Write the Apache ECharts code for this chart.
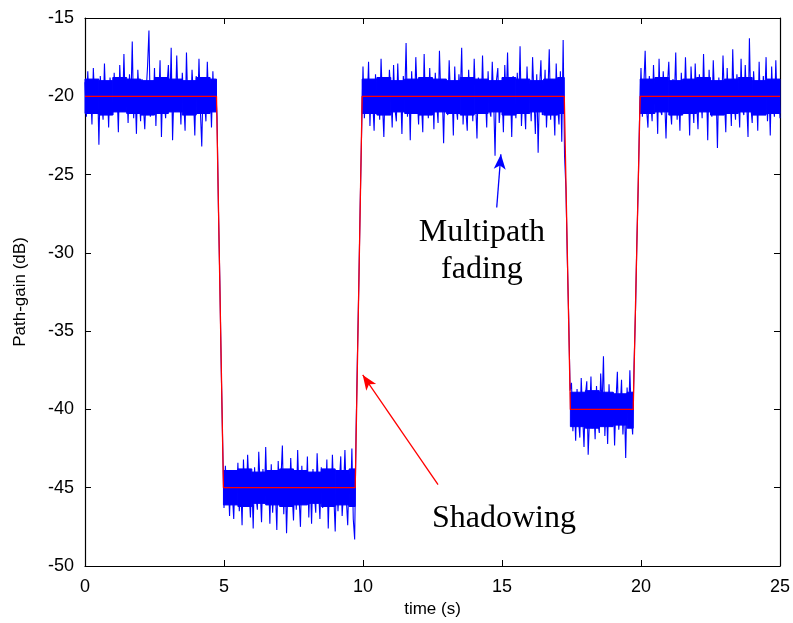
<!DOCTYPE html>
<html>
<head>
    <meta charset="utf-8">
    <title>Path-gain vs time</title>
    <script src="https://cdn.jsdelivr.net/npm/echarts@6/dist/echarts.min.js"></script>
    <style>
        html, body { margin: 0; padding: 0; background: #fff; }
        #main { width: 793px; height: 623px; }
    </style>
</head>
<body>
<div id="main"></div>
<script type="text/javascript">
    // sample spacing of the measured trace (s)
    var dt = 0.05;

    var gainA = [ // 0 - 4.75 s
        -19.1,-21.3,-18.4,-20.9,-19.6,-21.8,-18.2,-20.4,-21.1,-19.0,
        -23.1,-18.7,-20.2,-21.5,-17.9,-20.6,-19.3,-22.0,-18.8,-20.1,
        -21.2,-18.5,-20.8,-19.4,-22.3,-18.0,-20.3,-21.0,-17.3,-20.7,
        -19.2,-21.7,-18.6,-20.5,-16.5,-21.4,-19.5,-22.4,-18.3,-20.0,
        -21.6,-18.9,-20.6,-22.1,-19.7,-18.1,-15.8,-21.3,-19.8,-20.9,
        -18.2,-21.9,-19.0,-20.4,-17.7,-22.6,-18.8,-20.2,-21.4,-19.3,
        -18.0,-20.8,-16.9,-22.8,-19.6,-21.0,-17.4,-20.5,-19.1,-21.8,
        -18.5,-20.3,-22.2,-17.2,-20.7,-19.4,-21.2,-18.3,-20.0,-22.5,
        -18.7,-21.1,-17.6,-20.9,-23.2,-18.9,-20.4,-21.6,-17.8,-20.6,
        -19.2,-22.0,-18.4,-20.8,-19.5,-21.3
    ];
    var fallA = [-27.2, -31.8, -37.3, -42.0];
    var gainB = [ // 5.00 - 9.70 s
        -46.3,-43.6,-45.9,-44.2,-46.8,-43.9,-45.4,-47.0,-44.0,-45.8,
        -43.4,-46.5,-44.7,-47.4,-43.2,-45.6,-46.1,-42.9,-45.0,-46.9,
        -44.3,-47.6,-43.7,-45.5,-46.4,-42.7,-44.9,-47.2,-43.8,-46.0,
        -42.4,-45.7,-44.1,-47.3,-43.5,-46.6,-44.6,-45.2,-47.7,-43.3,
        -45.9,-44.4,-42.3,-46.7,-43.9,-47.9,-44.8,-46.2,-43.1,-45.3,
        -47.1,-44.0,-46.4,-42.6,-45.6,-47.5,-43.6,-46.0,-44.5,-45.8,
        -43.0,-46.9,-44.2,-47.3,-43.8,-45.4,-46.6,-42.8,-45.1,-47.0,
        -43.7,-46.3,-44.6,-45.9,-43.2,-47.6,-44.3,-46.1,-42.9,-45.5,
        -47.8,-43.9,-46.5,-44.7,-43.0,-46.8,-45.2,-42.6,-45.7,-47.4,
        -44.1,-46.2,-42.5,-47.0,-48.3
    ];
    var riseB = [-41.5, -36.5, -32.0, -26.8, -22.3];
    var gainC = [ // 10.00 - 17.20 s
        -18.1,-21.4,-19.3,-20.7,-17.8,-21.9,-19.0,-20.3,-22.2,-18.6,
        -20.9,-19.2,-21.5,-17.6,-20.4,-22.6,-18.9,-20.1,-21.2,-18.3,
        -19.7,-22.0,-18.0,-20.8,-21.6,-17.9,-20.5,-19.4,-22.4,-18.7,
        -20.2,-16.6,-21.3,-19.1,-22.8,-18.4,-20.6,-21.0,-17.5,-20.0,
        -21.8,-18.8,-20.3,-22.3,-17.3,-20.9,-19.5,-21.4,-18.2,-20.7,
        -19.0,-22.1,-18.5,-20.4,-21.7,-17.1,-20.1,-19.6,-23.0,-18.9,
        -20.8,-21.2,-17.7,-20.2,-19.3,-22.5,-18.1,-20.6,-21.5,-18.6,
        -20.0,-16.9,-21.8,-19.4,-20.9,-22.2,-18.3,-20.5,-19.1,-21.6,
        -17.6,-20.3,-22.7,-18.8,-20.1,-21.1,-17.4,-20.7,-19.8,-22.0,
        -18.4,-20.9,-21.3,-17.8,-20.2,-23.8,-19.0,-18.2,-21.7,-20.4,
        -19.6,-22.3,-18.0,-20.6,-17.2,-21.0,-19.3,-22.6,-18.7,-20.1,
        -21.4,-18.5,-20.8,-16.8,-21.9,-19.7,-20.3,-22.1,-18.1,-20.5,
        -19.2,-21.6,-17.5,-20.0,-22.4,-18.6,-23.6,-19.5,-17.7,-21.2,
        -20.7,-18.3,-22.0,-19.9,-17.0,-21.5,-18.9,-20.2,-22.5,-17.9,
        -20.6,-21.8,-18.4,-22.9,-16.4
    ];
    var fallC = [-23.8, -25.9, -30.4, -34.2, -38.8];
    var gainD = [ // 17.50 - 19.70 s
        -38.3,-41.4,-39.2,-42.0,-38.7,-40.6,-41.8,-38.0,-40.3,-42.4,
        -39.1,-38.2,-42.9,-40.5,-37.9,-41.2,-39.6,-41.9,-38.5,-40.8,
        -41.5,-37.7,-39.8,-36.6,-41.7,-39.3,-42.2,-38.4,-40.7,-41.1,
        -38.9,-42.3,-39.5,-37.6,-41.3,-40.0,-38.1,-41.6,-39.4,-43.1,
        -38.6,-41.0,-37.5,-40.4,-41.6
    ];
    var riseD = [-37.2, -33.9, -29.4, -25.8, -21.2];
    var gainE = [ // 20.00 - 25.00 s
        -18.2,-21.3,-19.4,-17.1,-20.8,-22.0,-18.7,-20.3,-21.6,-18.0,
        -20.5,-19.1,-22.4,-17.6,-20.9,-21.2,-18.4,-20.1,-22.7,-19.3,
        -17.8,-20.6,-21.8,-18.9,-20.2,-17.2,-21.5,-19.6,-22.2,-18.5,
        -20.7,-21.0,-17.5,-20.4,-19.2,-22.5,-18.1,-20.0,-21.7,-17.9,
        -20.3,-22.1,-18.6,-19.8,-21.4,-17.3,-20.6,-19.0,-22.8,-18.3,
        -20.9,-21.3,-17.7,-20.2,-19.5,-23.3,-18.8,-20.5,-21.1,-17.4,
        -20.1,-22.3,-18.2,-20.7,-19.3,-21.9,-17.0,-20.4,-21.5,-18.6,
        -19.9,-22.0,-17.6,-20.8,-21.2,-18.0,-20.3,-22.6,-16.3,-20.6,
        -21.7,-18.4,-20.0,-19.4,-22.2,-17.8,-20.9,-21.1,-18.7,-20.2,
        -17.5,-21.6,-19.2,-22.5,-18.1,-20.5,-21.3,-17.7,-20.8,-19.0,
        -21.4
    ];

    // dense core of the fading trace (where the samples overlap into a solid band)
    var coreStart = [0, 0.5, 1, 1.5, 2, 2.5, 3, 3.5, 4, 4.5,
        4.98, 5.5, 6, 6.5, 7, 7.5, 8, 8.5, 9, 9.5,
        9.97, 10.5, 11, 11.5, 12, 12.5, 13, 13.5, 14, 14.5, 15, 15.5, 16, 16.5, 17,
        17.46, 18, 18.5, 19, 19.5,
        19.97, 20.5, 21, 21.5, 22, 22.5, 23, 23.5, 24, 24.5];
    var coreEnd = [0.5, 1, 1.5, 2, 2.5, 3, 3.5, 4, 4.5, 4.73,
        5.5, 6, 6.5, 7, 7.5, 8, 8.5, 9, 9.5, 9.72,
        10.5, 11, 11.5, 12, 12.5, 13, 13.5, 14, 14.5, 15, 15.5, 16, 16.5, 17, 17.24,
        18, 18.5, 19, 19.5, 19.72,
        20.5, 21, 21.5, 22, 22.5, 23, 23.5, 24, 24.5, 25];
    var coreHi = [-18.9, -19.0, -18.8, -18.9, -19.0, -18.8, -18.9, -19.0, -18.8, -18.9,
        -43.9, -43.8, -44.0, -43.9, -43.8, -43.9, -44.0, -43.8, -43.9, -43.8,
        -18.9, -18.8, -19.0, -18.9, -18.8, -18.9, -19.0, -18.8, -18.9, -19.0, -18.8, -18.9, -19.0, -18.9, -18.8,
        -38.9, -38.8, -38.9, -39.0, -38.9,
        -18.9, -18.8, -19.0, -18.9, -18.8, -19.0, -18.9, -18.8, -19.0, -18.9];
    var coreLo = [-21.1, -21.2, -21.0, -21.1, -21.2, -21.1, -21.0, -21.2, -21.1, -21.0,
        -46.1, -46.2, -46.0, -46.1, -46.2, -46.1, -46.0, -46.2, -46.1, -46.2,
        -21.1, -21.2, -21.0, -21.1, -21.2, -21.0, -21.1, -21.2, -21.1, -21.0, -21.2, -21.1, -21.0, -21.2, -21.1,
        -41.1, -41.2, -41.1, -41.0, -41.2,
        -21.1, -21.0, -21.2, -21.1, -21.0, -21.2, -21.1, -21.0, -21.2, -21.1];

    // shadowing (mean level), corner points
    var shadowT = [0, 4.73, 4.98, 9.72, 9.97, 17.24, 17.46, 19.72, 19.97, 25];
    var shadowY = [-20, -20, -45, -45, -20, -20, -40, -40, -20, -20];

    // annotations
    var noteText = ['Multipath\nfading', 'Shadowing'];
    var noteT = [14.28, 15.07];
    var noteY = [-29.9, -47.0];
    var blueArrow = [[14.81, -27.1], [14.96, -23.7]];
    var redArrow = [[12.70, -44.8], [9.99, -37.8]];

    var xTicks = [0, 5, 10, 15, 20, 25];
    var yTicks = [-50, -45, -40, -35, -30, -25, -20, -15];

    var gain = [].concat(gainA, fallA, gainB, riseB, gainC, fallC, gainD, riseD, gainE);
    var gainData = gain.map(function (v, i) {
        return [+(i * dt).toFixed(2), v];
    });
    var coreData = coreStart.map(function (t, i) {
        return [t, coreEnd[i], coreHi[i], coreLo[i]];
    });
    var shadowData = shadowT.map(function (t, i) {
        return [t, shadowY[i]];
    });
    var noteData = noteText.map(function (s, i) {
        return {name: s, value: [noteT[i], noteY[i]]};
    });

    var myChart = echarts.init(document.getElementById('main'), null, {renderer: 'canvas'});

    var sans = 'Liberation Sans';
    var tickStyle = {show: true, inside: true, length: 6, lineStyle: {color: '#000', width: 1}};
    var frameLine = {show: true, onZero: false, lineStyle: {color: '#000', width: 1.2}};

    var option = {
        backgroundColor: '#fff',
        animation: false,
        grid: {left: 85, right: 11, top: 18, bottom: 57, containLabel: false},
        xAxis: [{
            type: 'value',
            min: xTicks[0], max: xTicks[xTicks.length - 1], interval: 5,
            name: 'time (s)',
            nameLocation: 'middle',
            nameGap: 33,
            nameTextStyle: {fontFamily: sans, fontSize: 17, color: '#000'},
            axisLine: frameLine,
            axisTick: tickStyle,
            axisLabel: {fontFamily: sans, fontSize: 18, color: '#000', margin: 12},
            splitLine: {show: false}
        }, {
            type: 'value', position: 'top',
            min: xTicks[0], max: xTicks[xTicks.length - 1], interval: 5,
            axisLine: frameLine,
            axisTick: tickStyle,
            axisLabel: {show: false},
            splitLine: {show: false}
        }],
        yAxis: [{
            type: 'value',
            min: yTicks[0], max: yTicks[yTicks.length - 1], interval: 5,
            name: 'Path-gain (dB)',
            nameLocation: 'middle',
            nameGap: 56,
            nameTextStyle: {fontFamily: sans, fontSize: 17, color: '#000'},
            axisLine: frameLine,
            axisTick: tickStyle,
            axisLabel: {fontFamily: sans, fontSize: 18, color: '#000', margin: 11},
            splitLine: {show: false}
        }, {
            type: 'value', position: 'right',
            min: yTicks[0], max: yTicks[yTicks.length - 1], interval: 5,
            axisLine: frameLine,
            axisTick: tickStyle,
            axisLabel: {show: false},
            splitLine: {show: false}
        }],
        series: [{
            name: 'multipath core',
            type: 'custom',
            data: coreData,
            silent: true,
            z: 1,
            renderItem: function (params, api) {
                var p0 = api.coord([api.value(0), api.value(2)]);
                var p1 = api.coord([api.value(1), api.value(3)]);
                return {
                    type: 'rect',
                    shape: {x: p0[0], y: p0[1], width: p1[0] - p0[0], height: p1[1] - p0[1]},
                    style: {fill: '#0000ff', stroke: '#0000ff', lineWidth: 1}
                };
            }
        }, {
            name: 'multipath',
            type: 'line',
            data: gainData,
            showSymbol: false,
            symbol: 'none',
            sampling: null,
            lineStyle: {color: '#0000ff', width: 1.1},
            z: 2,
            markLine: {
                silent: true,
                symbol: ['none', 'arrow'],
                symbolSize: [9, 15],
                label: {show: false},
                lineStyle: {color: '#0000ff', width: 1.3, type: 'solid'},
                data: [[{coord: blueArrow[0]}, {coord: blueArrow[1]}]]
            }
        }, {
            name: 'shadowing',
            type: 'line',
            data: shadowData,
            symbol: 'none',
            lineStyle: {color: '#ff0000', width: 1.3},
            z: 3,
            markLine: {
                silent: true,
                symbol: ['none', 'arrow'],
                symbolSize: [9, 15],
                label: {show: false},
                lineStyle: {color: '#ff0000', width: 1.3, type: 'solid'},
                data: [[{coord: redArrow[0]}, {coord: redArrow[1]}]]
            }
        }, {
            name: 'notes',
            type: 'scatter',
            data: noteData,
            symbolSize: 0,
            silent: true,
            itemStyle: {opacity: 1},
            label: {
                show: true,
                position: 'inside',
                formatter: '{b}',
                fontFamily: 'Liberation Serif',
                fontSize: 32,
                lineHeight: 37,
                color: '#000',
                opacity: 1,
                textBorderWidth: 0,
                textShadowBlur: 0,
                align: 'center',
                verticalAlign: 'middle'
            },
            z: 4
        }]
    };

    myChart.setOption(option);
</script>
</body>
</html>
